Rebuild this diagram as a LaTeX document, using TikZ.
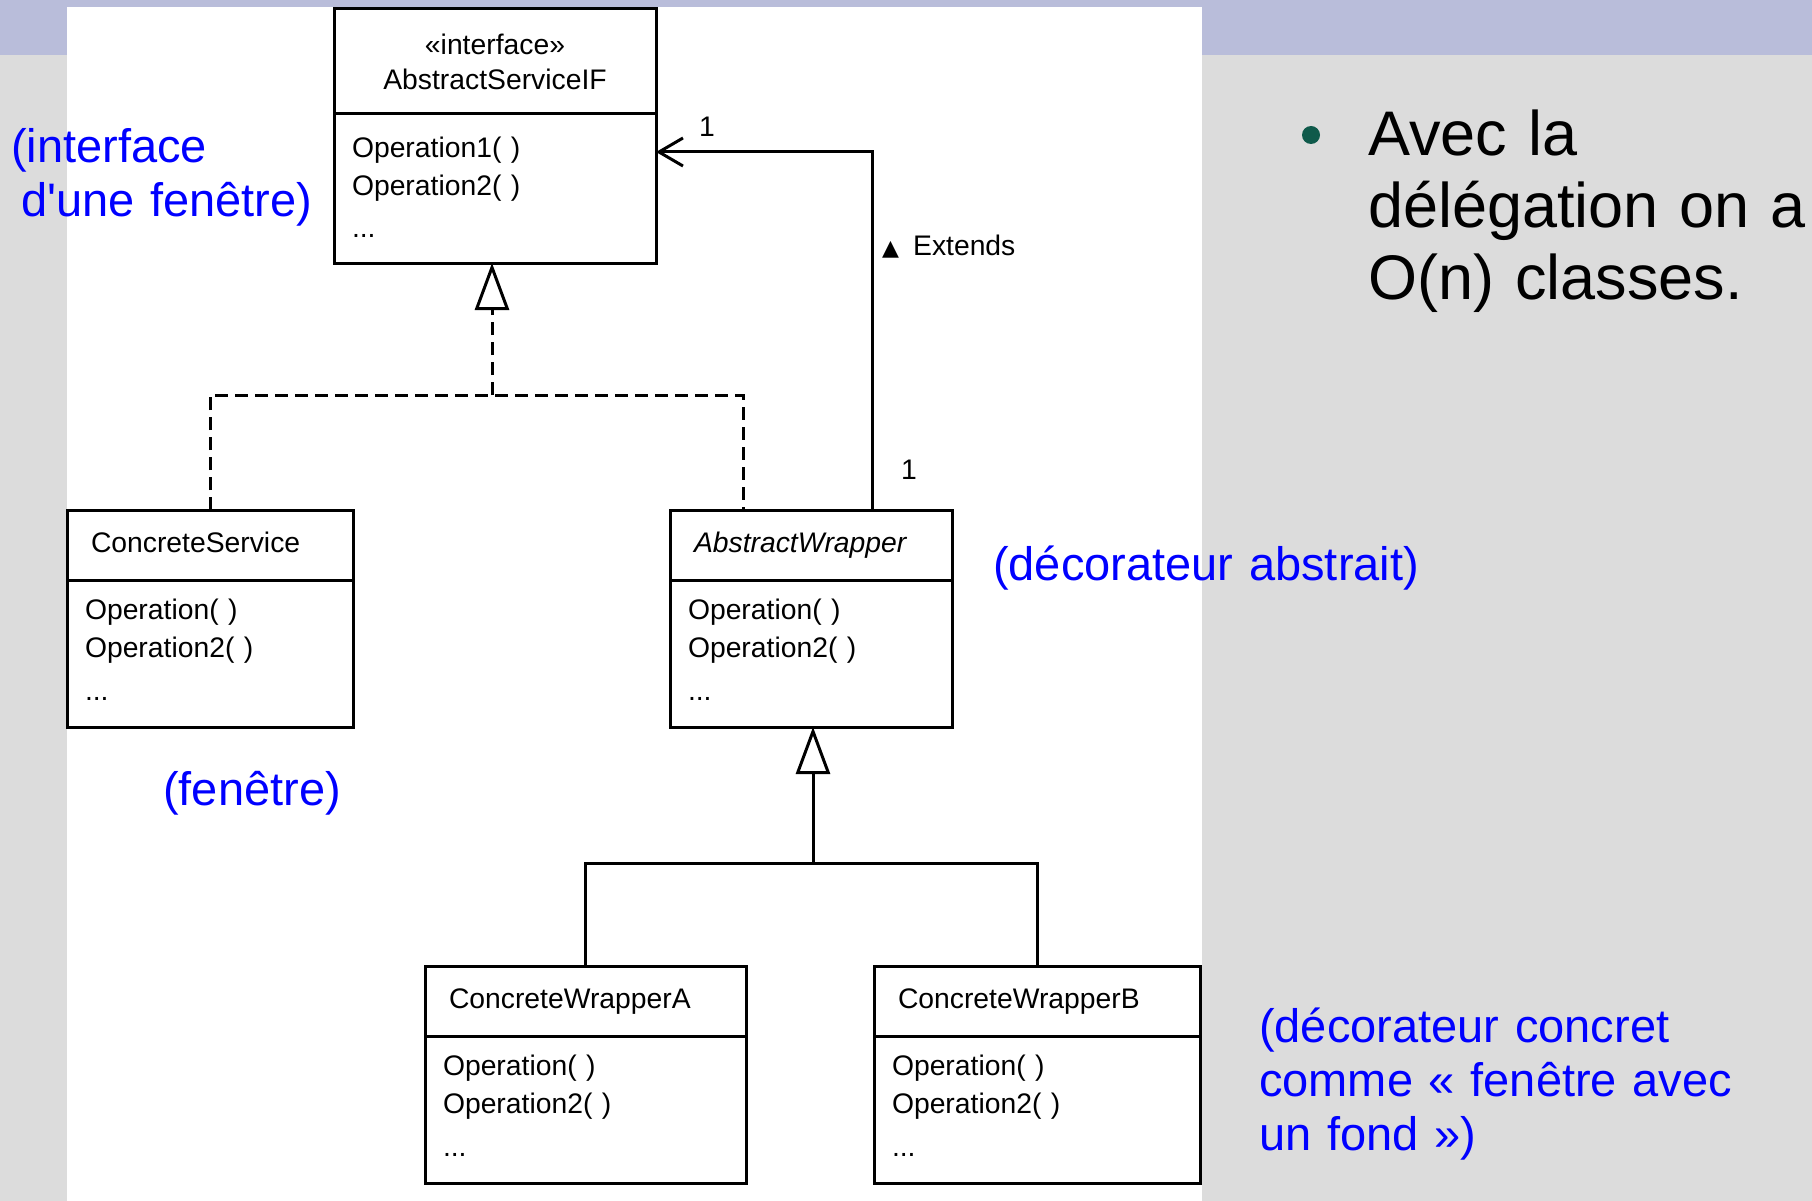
\documentclass[tikz,border=0pt]{standalone}
\usepackage{fontspec}
\setmainfont{Liberation Sans}
\newfontfamily\dejavu{DejaVu Sans}
\usetikzlibrary{arrows.meta,positioning}

\definecolor{band}{HTML}{B9BDDA}
\definecolor{slide}{HTML}{DCDCDC}
\definecolor{noteblue}{HTML}{0000FF}
\definecolor{dotteal}{HTML}{0F5A4B}

\newcommand\umlfont{\fontsize{28.3pt}{38pt}\selectfont}
\newcommand\notefont{\fontsize{47pt}{54pt}\selectfont}
\newcommand\slidefont{\fontsize{63pt}{72pt}\selectfont}

\begin{document}
\begin{tikzpicture}[x=1pt, y=-1pt,
  box/.style={draw, line width=3pt, fill=white, outer sep=0pt, font=\umlfont},
  head/.style={box, anchor=north west, inner xsep=24pt, minimum height=70pt,
    text height=20pt, text depth=6pt, align=left, text width=#1},
  ops/.style={box, inner xsep=18pt, minimum height=147pt, text depth=88pt,
    align=left, text width=#1},
  link/.style={line width=3pt},
  realize/.style={link, dash pattern=on 13pt off 7pt},
  inherit/.style={-{Triangle[open, length=47pt, width=34pt]}},
  assoc/.style={link, -{Straight Barb[length=24pt, width=28pt]}},
  mult/.style={font=\umlfont, inner sep=0pt},
  note/.style={text=noteblue, font=\notefont, anchor=base west, inner sep=0pt,
    align=left, text width=#1}]
  \useasboundingbox (0,0) rectangle (1812,1201);

  % Slide background
  \fill[slide] (0,0) rectangle (1812,1201);
  \fill[band] (0,0) rectangle (1812,55);
  \fill[white] (67,7) rectangle (1202,1201);

  % Define nodes
  \node[box, anchor=north west, minimum width=322pt, minimum height=105pt, align=center]
    (svc) at (334,9) {«interface»\\[-3pt]AbstractServiceIF};
  \node[ops=286pt, minimum height=149pt, text depth=82pt, below=0pt of svc] (svcop)
    {Operation1( )\\Operation2( )\\[4pt]...};

  \node[head=238pt] (cs) at (67,510) {ConcreteService};
  \node[ops=250pt, below=0pt of cs] (csop) {Operation( )\\Operation2( )\\[5pt]...};

  \node[head=234pt, font=\umlfont\itshape] (aw) at (670,510) {AbstractWrapper};
  \node[ops=246pt, below=0pt of aw] (awop) {Operation( )\\Operation2( )\\[5pt]...};

  \node[head=273pt] (cwa) at (425,966) {ConcreteWrapperA};
  \node[ops=285pt, below=0pt of cwa] (cwaop) {Operation( )\\Operation2( )\\[5pt]...};

  \node[head=278pt] (cwb) at (874,966) {ConcreteWrapperB};
  \node[ops=290pt, below=0pt of cwb] (cwbop) {Operation( )\\Operation2( )\\[5pt]...};

  \coordinate (rj) at ([xshift=-3pt, yshift=-132pt]svcop.south);
  \coordinate (gj) at ([xshift=2pt, yshift=-136pt]awop.south);

  % Draw arrows
  \draw[realize] (cs.north) |- (rj) -| ([xshift=73pt]aw.north west);
  \draw[realize, inherit] (rj) -- (rj |- svcop.south);
  \draw[link] (cwa.north) |- (gj) -| (cwb.north);
  \draw[link, inherit] (gj) -- (gj |- awop.south);
  \draw[assoc] ([xshift=202pt]aw.north west) |- ([yshift=-38pt]svcop.north east);

  \node[mult] (m1) at (707,127) {1};
  \node[mult] (m2) at (909,470) {1};
  \node[mult, anchor=west] (ext) at (882,247)
    {{\dejavu\fontsize{22pt}{22pt}\selectfont ▲}\hspace{14pt}Extends};

  % Notes
  \node[note=400pt] (n1) at (11,163) {(interface\\\hspace*{10pt}d\textquotesingle une fenêtre)};
  \node[note=300pt] (n2) at (163,805) {(fenêtre)};
  \node[note=520pt] (n3) at (993,580) {(décorateur abstrait)};
  \node[note=520pt] (n4) at (1259,1042) {(décorateur concret\\comme « fenêtre avec\\un fond »)};

  \node[circle, fill=dotteal, minimum size=18pt, inner sep=0pt] (dot) at (1311,135) {};
  \node[anchor=base west, inner sep=0pt, font=\slidefont, align=left, text width=440pt]
    (bul) at (1368,156) {Avec la\\délégation on a\\O(n) classes.};
\end{tikzpicture}
\end{document}
